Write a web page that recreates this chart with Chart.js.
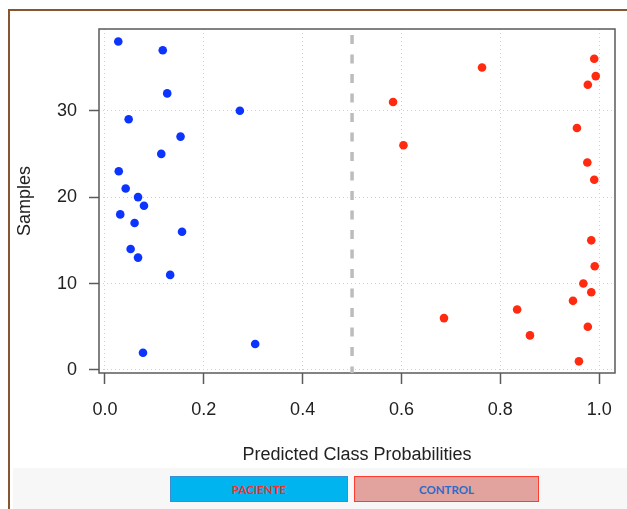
<!DOCTYPE html>
<html>
<head>
<meta charset="utf-8">
<script src="https://cdn.jsdelivr.net/npm/chart.js@4/dist/chart.umd.min.js"></script>
<style>
  html, body { margin: 0; padding: 0; background: #fff; }
  #page { position: relative; width: 627px; height: 509px; overflow: hidden; background: #fff; }
  #frame { position: absolute; left: 8px; top: 9px; width: 640px; height: 520px;
           border-left: 2px solid #86562f; border-top: 2px solid #86562f; }
  #wrap { position: absolute; left: 0; top: 0; width: 627px; height: 468px; }
  #band { position: absolute; left: 13px; top: 468px; width: 614px; height: 41px; background: #f7f7f7; }
  .key { position: absolute; top: 476px; height: 26px; box-sizing: border-box;
         font-family: Lato, "Open Sans", sans-serif; font-weight: bold; font-size: 11.5px;
         display: flex; align-items: center; justify-content: center; }
  #kPac { left: 170px; width: 178px; background: #00b4f0; border: 1px solid #3a8fd2; color: #ff2a2a; }
  #kCon { left: 354px; width: 185px; background: #e2a29e; border: 1.5px solid #ff3d2e; color: #2a6cc8; }
</style>
</head>
<body>
<div id="page">
  <div id="frame"></div>
  <div id="wrap"><canvas id="chart" width="627" height="468"></canvas></div>
  <div id="band"></div>
  <div class="key" id="kPac">PACIENTE</div>
  <div class="key" id="kCon">CONTROL</div>
</div>
<script>
// Predicted probability of class CONTROL for each sample, split by true class
const pacienteProb   = [0.027, 0.117, 0.126, 0.273, 0.048, 0.153, 0.114, 0.028, 0.042, 0.067,
                        0.079, 0.031, 0.060, 0.156, 0.052, 0.067, 0.132, 0.304, 0.077];
const pacienteSample = [38, 37, 32, 30, 29, 27, 25, 23, 21, 20, 19, 18, 17, 16, 14, 13, 11, 3, 2];

const controlProb    = [0.990, 0.763, 0.993, 0.977, 0.583, 0.955, 0.604, 0.976, 0.990, 0.984,
                        0.991, 0.968, 0.984, 0.947, 0.834, 0.686, 0.977, 0.860, 0.959];
const controlSample  = [36, 35, 34, 33, 31, 28, 26, 24, 22, 15, 12, 10, 9, 8, 7, 6, 5, 4, 1];

// Decision threshold
const threshold = 0.5;

// Axis ticks and ranges
const xTicks = [0.0, 0.2, 0.4, 0.6, 0.8, 1.0];
const yTicks = [0, 10, 20, 30];
const xRange = [-0.012, 1.032];
const yRange = [-0.35, 39.45];

const toPoints = (xs, ys) => xs.map((x, i) => ({ x: x, y: ys[i] }));

const FONT = { family: '"Liberation Sans", Arial, sans-serif', size: 18 };
const TEXT = '#222222';
const AXIS = '#5a5a5a';

// Box around the plotting region
const plotBox = {
  id: 'plotBox',
  beforeDatasetsDraw(chart) {
    const a = chart.chartArea, ctx = chart.ctx;
    ctx.save();
    ctx.strokeStyle = AXIS;
    ctx.lineWidth = 1.5;
    ctx.strokeRect(a.left, a.top, a.right - a.left, a.bottom - a.top);
    ctx.restore();
  }
};

new Chart(document.getElementById('chart'), {
  type: 'scatter',
  data: {
    datasets: [
      {
        label: 'threshold',
        data: [{ x: threshold, y: yRange[1] }, { x: threshold, y: yRange[0] }],
        showLine: true,
        borderColor: '#bcbcbc',
        borderWidth: 3.5,
        borderDash: [9, 10.5],
        borderDashOffset: 13.5,
        pointRadius: 0,
        order: 3
      },
      {
        label: 'PACIENTE',
        data: toPoints(pacienteProb, pacienteSample),
        backgroundColor: '#0b35ff',
        borderColor: '#0b35ff',
        borderWidth: 0,
        pointRadius: 4.3,
        order: 1
      },
      {
        label: 'CONTROL',
        data: toPoints(controlProb, controlSample),
        backgroundColor: '#ff2a10',
        borderColor: '#ff2a10',
        borderWidth: 0,
        pointRadius: 4.3,
        order: 2
      }
    ]
  },
  options: {
    responsive: false,
    animation: false,
    events: [],
    layout: { padding: { top: 29, right: 10, left: 0, bottom: 0 } },
    plugins: { legend: { display: false }, tooltip: { enabled: false } },
    scales: {
      x: {
        type: 'linear',
        min: xRange[0],
        max: xRange[1],
        afterBuildTicks(scale) { scale.ticks = xTicks.map(v => ({ value: v })); },
        afterFit(scale) { scale.height = 95; },
        ticks: {
          font: FONT, color: TEXT, padding: 15, maxRotation: 0,
          callback: v => v.toFixed(1)
        },
        grid: {
          color: '#cfcfcf', lineWidth: 1,
          drawTicks: true, tickLength: 11, tickColor: AXIS, tickWidth: 1.5, tickBorderDash: []
        },
        border: { display: false, dash: [1, 3] },
        title: {
          display: true, text: 'Predicted Class Probabilities',
          font: FONT, color: TEXT, padding: { top: 0, bottom: 2 }
        }
      },
      y: {
        type: 'linear',
        min: yRange[0],
        max: yRange[1],
        afterBuildTicks(scale) { scale.ticks = yTicks.map(v => ({ value: v })); },
        afterFit(scale) { scale.width = 99; },
        ticks: { font: FONT, color: TEXT, padding: 12 },
        grid: {
          color: '#cfcfcf', lineWidth: 1,
          drawTicks: true, tickLength: 10, tickColor: AXIS, tickWidth: 1.5, tickBorderDash: []
        },
        border: { display: false, dash: [1, 3] },
        title: {
          display: true, text: 'Samples',
          font: FONT, color: TEXT, padding: { top: 14, bottom: 0 }
        }
      }
    }
  },
  plugins: [plotBox]
});
</script>
</body>
</html>
